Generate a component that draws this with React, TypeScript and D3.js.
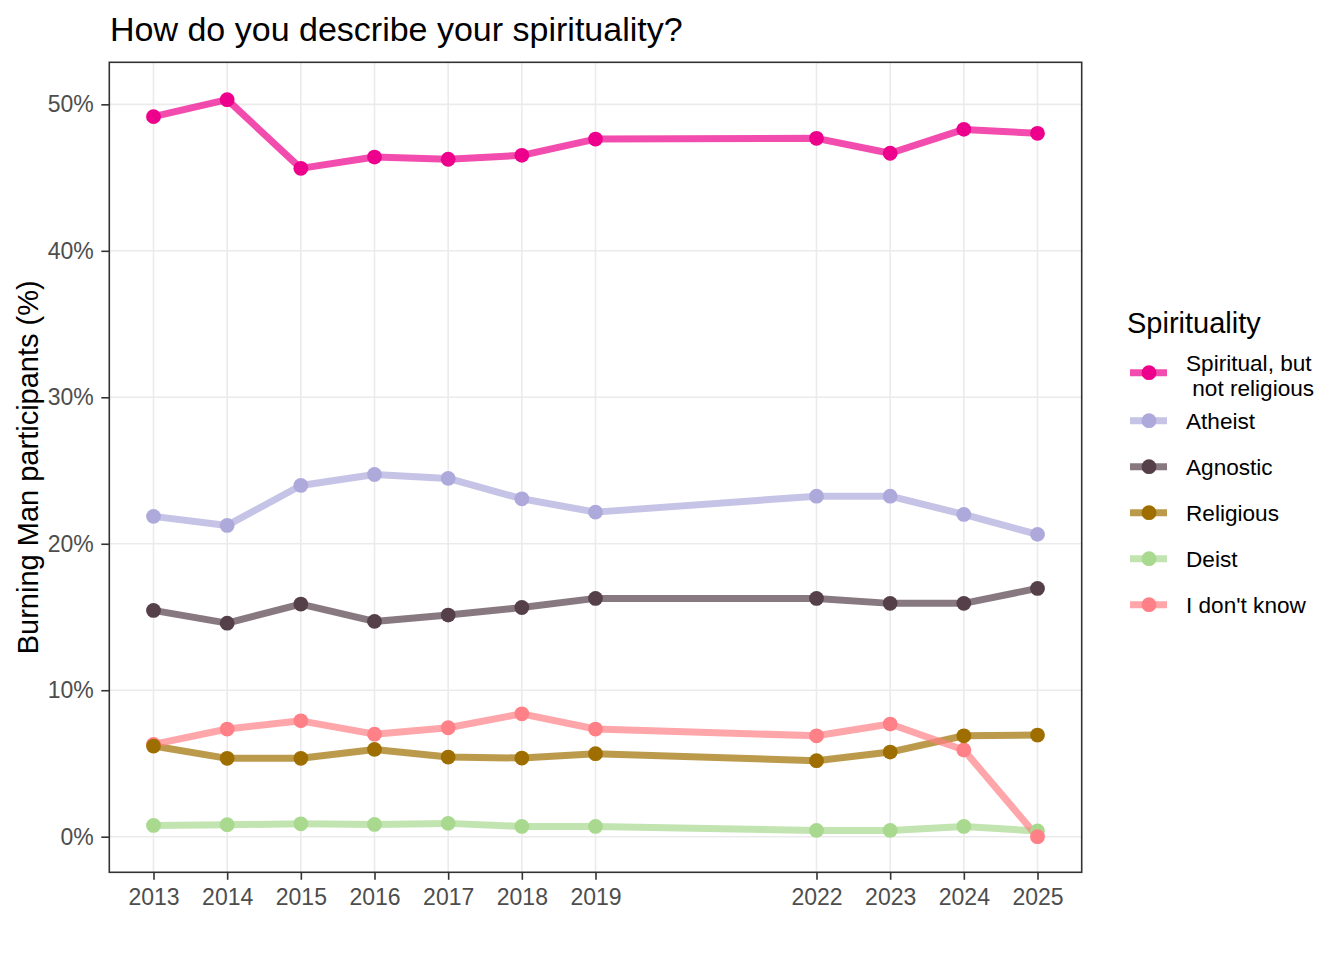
import React, { useEffect, useRef } from "react";
import * as d3 from "d3";

// survey years (2020/2021 missing)
const years = [2013, 2014, 2015, 2016, 2017, 2018, 2019, 2022, 2023, 2024, 2025];

const categories = ["Spiritual, but\n not religious", "Atheist", "Agnostic", "Religious", "Deist", "I don't know"];
const colors = ["#EC008C", "#ADAADB", "#55404A", "#9E6F00", "#A8D98F", "#FF8086"];

const spiritualNotReligious = [49.16, 50.32, 45.63, 46.4, 46.25, 46.52, 47.63, 47.68, 46.66, 48.29, 48.02];
const atheist = [21.87, 21.25, 23.98, 24.73, 24.46, 23.07, 22.16, 23.25, 23.25, 22.0, 20.64];
const agnostic = [15.45, 14.58, 15.88, 14.7, 15.13, 15.65, 16.27, 16.27, 15.93, 15.93, 16.95];
const religious = [6.19, 5.35, 5.35, 5.96, 5.44, 5.37, 5.67, 5.19, 5.78, 6.89, 6.94];
const deist = [0.77, 0.82, 0.88, 0.84, 0.91, 0.7, 0.7, 0.43, 0.43, 0.7, 0.39];
const dontKnow = [6.3, 7.35, 7.91, 7.0, 7.44, 8.39, 7.35, 6.89, 7.69, 5.92, 0.0];

const seriesValues = [spiritualNotReligious, atheist, agnostic, religious, deist, dontKnow];
const yTicks = [0, 10, 20, 30, 40, 50];
const yLimits = [-2.43, 52.87];

const FONT = "'Liberation Sans', Arial, sans-serif";

function drawChart(element: SVGSVGElement) {
    const svg = d3.select(element);
    svg.selectAll("*").remove();

    const panel = { left: 109.3, right: 1081.7, top: 62.3, bottom: 872.3 };

    const series = categories.map((name, i) => ({
        name,
        color: colors[i],
        points: years.map((yr, j) => ({ year: yr, value: seriesValues[i][j] }))
    }));

    // 5% expansion on x like ggplot
    const xpad = (d3.max(years)! - d3.min(years)!) * 0.05;

    const x = d3.scaleLinear()
        .domain([d3.min(years)! - xpad, d3.max(years)! + xpad])
        .range([panel.left, panel.right]);
    const y = d3.scaleLinear()
        .domain(yLimits)
        .range([panel.bottom, panel.top]);

    svg.append("rect")
        .attr("width", 1344).attr("height", 960).attr("fill", "white");

    // grid
    svg.append("g").selectAll("line")
        .data(yTicks)
        .enter().append("line")
        .attr("x1", panel.left).attr("x2", panel.right)
        .attr("y1", d => y(d)).attr("y2", d => y(d))
        .attr("stroke", "#ebebeb").attr("stroke-width", 1.6);
    svg.append("g").selectAll("line")
        .data(years)
        .enter().append("line")
        .attr("y1", panel.top).attr("y2", panel.bottom)
        .attr("x1", d => x(d)).attr("x2", d => x(d))
        .attr("stroke", "#ebebeb").attr("stroke-width", 1.6);

    // lines
    const line = d3.line<{ year: number, value: number }>()
        .x(d => x(d.year))
        .y(d => y(d.value));

    svg.append("g").selectAll("path")
        .data(series)
        .enter().append("path")
        .attr("d", d => line(d.points))
        .attr("fill", "none")
        .attr("stroke", d => d.color)
        .attr("stroke-opacity", 0.7)
        .attr("stroke-width", 7)
        .attr("stroke-linejoin", "round");

    // points (religious drawn last, it sits on top in the original)
    const pointOrder = [0, 1, 2, 4, 5, 3];
    svg.append("g").selectAll("g")
        .data(pointOrder.map(i => series[i]))
        .enter().append("g")
        .attr("fill", d => d.color)
        .selectAll("circle")
        .data(d => d.points)
        .enter().append("circle")
        .attr("cx", d => x(d.year))
        .attr("cy", d => y(d.value))
        .attr("r", 7.4);

    // panel border
    svg.append("rect")
        .attr("x", panel.left).attr("y", panel.top)
        .attr("width", panel.right - panel.left).attr("height", panel.bottom - panel.top)
        .attr("fill", "none").attr("stroke", "#333333").attr("stroke-width", 1.6);

    // y axis
    const yAxis = svg.append("g")
        .attr("transform", "translate(" + panel.left + ",0)")
        .call(d3.axisLeft(y).tickValues(yTicks).tickSize(8).tickPadding(7.5).tickFormat(d => d + "%"));
    yAxis.select(".domain").remove();
    yAxis.selectAll("line").attr("stroke", "#333333").attr("stroke-width", 1.6);
    yAxis.selectAll("text").attr("fill", "#4d4d4d").style("font-size", "23px").style("font-family", FONT);

    // x axis
    const xAxis = svg.append("g")
        .attr("transform", "translate(0," + panel.bottom + ")")
        .call(d3.axisBottom(x).tickValues(years).tickSize(7.5).tickPadding(9).tickFormat(d3.format("d")));
    xAxis.select(".domain").remove();
    xAxis.selectAll("line").attr("stroke", "#333333").attr("stroke-width", 1.6);
    xAxis.selectAll("text").attr("fill", "#4d4d4d").style("font-size", "23px").style("font-family", FONT);

    // titles
    svg.append("text")
        .attr("x", 110).attr("y", 41)
        .style("font-family", FONT).style("font-size", "34px")
        .text("How do you describe your spirituality?");

    svg.append("text")
        .attr("transform", "translate(38," + ((panel.top + panel.bottom) / 2) + ") rotate(-90)")
        .attr("text-anchor", "middle")
        .style("font-family", FONT).style("font-size", "29px")
        .text("Burning Man participants (%)");

    // legend
    const legend = svg.append("g").style("font-family", FONT);
    legend.append("text")
        .attr("x", 1127).attr("y", 333)
        .style("font-size", "29px")
        .text("Spirituality");

    const keyY = [372.7, 420.7, 466.7, 512.7, 558.7, 604.7];
    const keys = legend.selectAll("g.key")
        .data(series)
        .enter().append("g")
        .attr("class", "key")
        .attr("transform", (d, i) => "translate(0," + keyY[i] + ")");
    keys.append("line")
        .attr("x1", 1130).attr("x2", 1167)
        .attr("stroke", d => d.color).attr("stroke-opacity", 0.7).attr("stroke-width", 7);
    keys.append("circle")
        .attr("cx", 1149).attr("r", 7.4).attr("fill", d => d.color);
    keys.append("text")
        .attr("x", 1186)
        .style("font-size", "22.6px")
        .style("white-space", "pre")
        .each(function (d) {
            const lines = d.name.split("\n");
            const t = d3.select(this);
            lines.forEach((l, k) => {
                t.append("tspan")
                    .attr("x", 1186)
                    .attr("y", lines.length > 1 ? -1.7 + k * 25 : 8)
                    .text(l);
            });
        });
}

export default function App() {
    const ref = useRef<SVGSVGElement>(null);
    useEffect(() => {
        if (ref.current) drawChart(ref.current);
    }, []);
    return (
        <svg ref={ref} width={1344} height={960}
            style={{ position: "absolute", left: 0, top: 0, display: "block" }} />
    );
}
